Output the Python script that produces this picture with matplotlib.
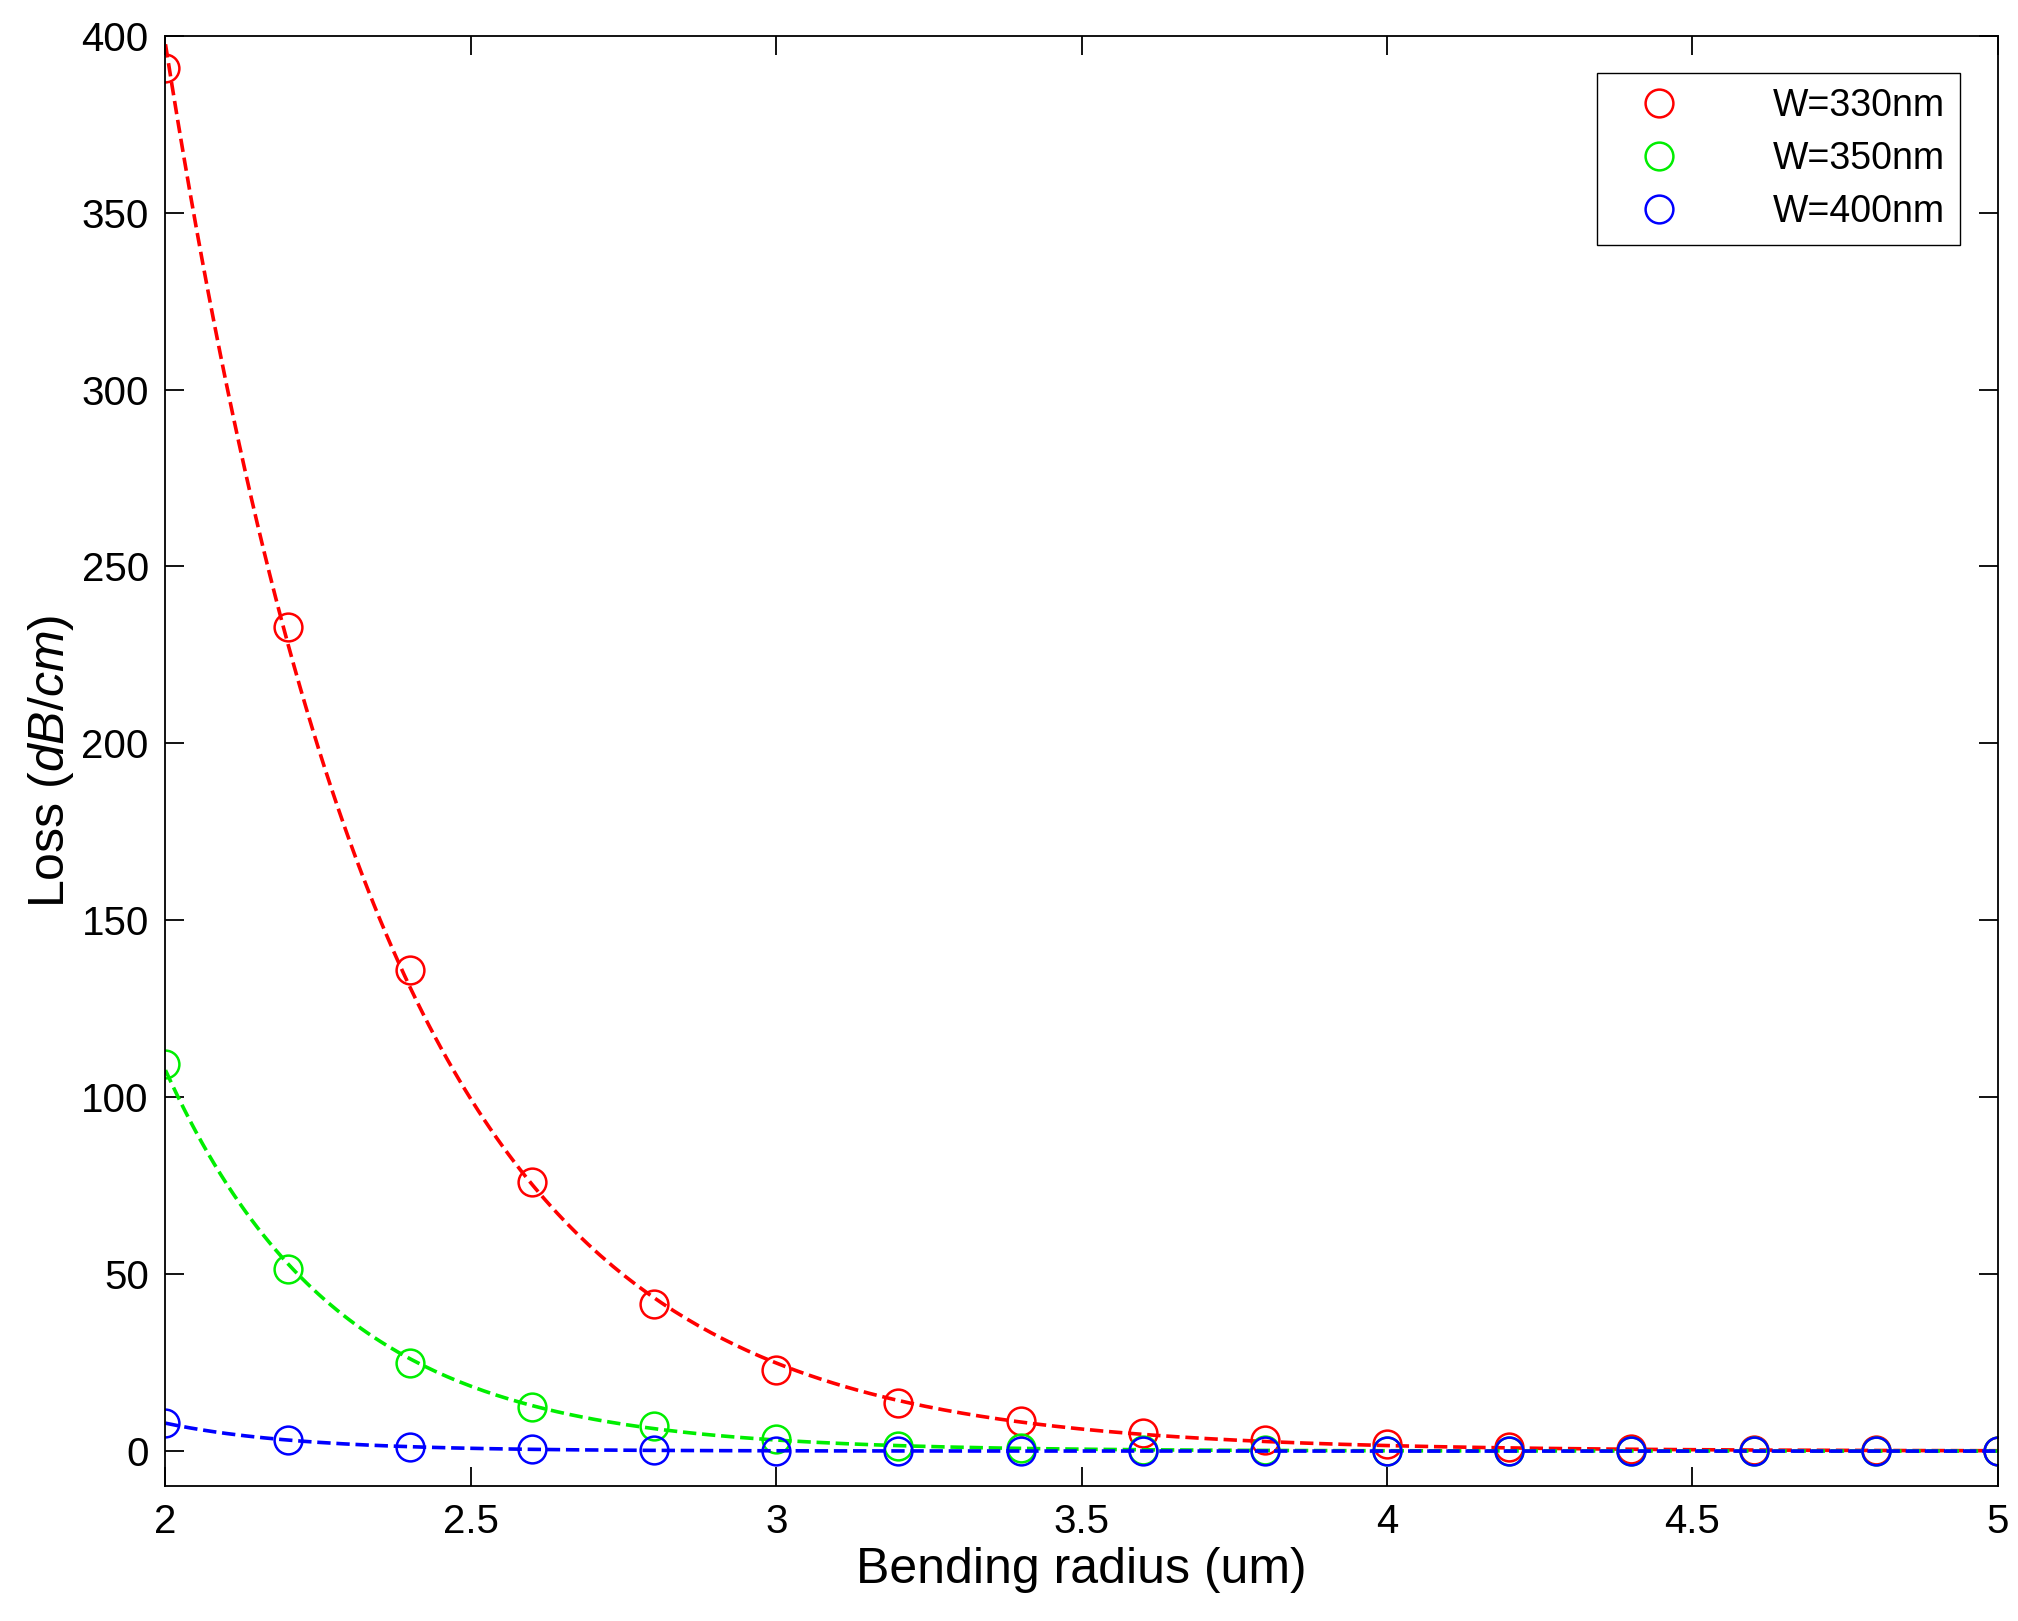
import numpy as np
import matplotlib
matplotlib.use("Agg")
import matplotlib.pyplot as plt

radius = [2.0, 2.2, 2.4, 2.6, 2.8, 3.0, 3.2, 3.4, 3.6, 3.8, 4.0, 4.2, 4.4, 4.6, 4.8, 5.0]
loss_330 = [391, 233, 136, 76, 41.5, 23, 13.5, 8.5, 5, 3, 2, 1.2, 0.6, 0.3, 0.2, 0.1]
loss_350 = [109.5, 51.5, 25, 12.5, 7, 3.5, 1.5, 0.8, 0.4, 0.2, 0.1, 0.05, 0.03, 0.02, 0.01, 0.01]
loss_400 = [8, 3, 1.2, 0.5, 0.2, 0.1, 0.05, 0.03, 0.02, 0.01, 0.01, 0.01, 0.01, 0.01, 0.01, 0.01]
labels = ["W=330nm", "W=350nm", "W=400nm"]
colors = ["#ff0000", "#00ee00", "#0000ff"]

plt.rcParams['font.family'] = ['Liberation Sans', 'DejaVu Sans']
plt.rcParams['mathtext.fontset'] = 'custom'
plt.rcParams['mathtext.it'] = 'Liberation Sans:italic'
plt.rcParams['mathtext.rm'] = 'Liberation Sans'
fig = plt.figure(figsize=(20.18, 16.21), dpi=100)
ax = fig.add_axes([0.082, 0.083, 0.908, 0.895])

x = np.array(radius)
xf = np.linspace(2, 5, 300)
for ys, c, lab in zip([loss_330, loss_350, loss_400], colors, labels):
    y = np.array(ys)
    p = np.polyfit(x[:6], np.log(y[:6]), 1, w=np.sqrt(y[:6]))
    ax.plot(xf, np.exp(np.polyval(p, xf)), '--', color=c, lw=2.6)
    ax.plot(x, y, 'o', mfc='none', mec=c, ms=20, mew=1.8, label=lab, linestyle='none')

ax.set_xlim(2, 5)
ax.set_ylim(-10, 400)
ax.set_xticks([2, 2.5, 3, 3.5, 4, 4.5, 5])
ax.set_xticklabels(["2", "2.5", "3", "3.5", "4", "4.5", "5"])
ax.set_yticks(range(0, 401, 50))
ax.tick_params(direction='in', top=True, right=True, labelsize=29, length=14, width=1.3, pad=12)
for s in ax.spines.values():
    s.set_linewidth(1.3)
ax.set_xlabel("Bending radius (um)", fontsize=36)
ax.set_ylabel("Loss $\\it{(dB/cm)}$", fontsize=36)
ax.legend(loc='upper right', fontsize=27, fancybox=False, edgecolor='black',
          framealpha=1, borderaxespad=1.0, handletextpad=1.8, handlelength=2.5,
          labelspacing=0.45)
fig.savefig("out.png", dpi=100)
